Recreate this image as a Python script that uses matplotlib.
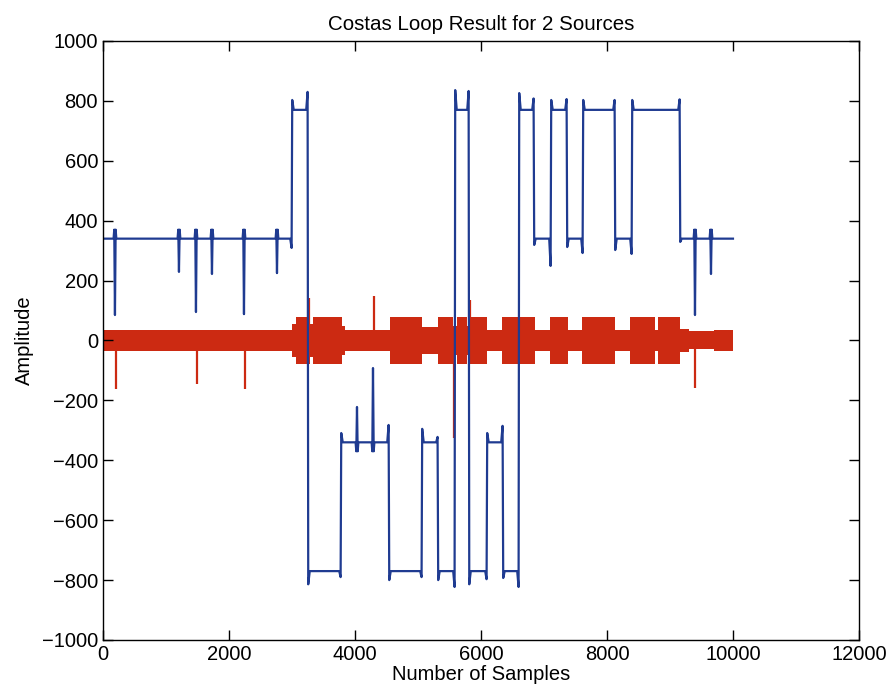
import numpy as np
import matplotlib
matplotlib.use('Agg')
import matplotlib.pyplot as plt

plt.rcParams['font.family'] = ['Liberation Sans', 'DejaVu Sans']

  # Fuente azul: niveles entre transiciones (indice de muestra)
blue_steps = [0, 3000, 3254, 3778, 4540, 5063, 5317, 5587, 5810, 6095, 6349,
              6603, 6841, 7111, 7365, 7619, 8127, 8397, 9159, 10000]
blue_levels = [340, 770, -770, -340, -770, -340, -770, 770, -770, -340, -770,
               770, 340, 770, 340, 770, 340, 770, 340]
  # valor justo antes / justo despues de cada transicion (oscilacion)
blue_pre = [309, 830, -790, -282, -790, -322, -823, 833, -797, -285, -823,
            808, 249, 806, 292, 803, 289, 805]
blue_post = [803, -814, -309, -800, -295, -800, 836, -814, -309, -793, 826,
             319, 803, 312, 803, 302, 803, 329]
  # picos cortos dentro de un nivel
blue_spike_x = [190, 1206, 1476, 1730, 2238, 2762, 4032, 4286, 9397, 9651]
blue_spike_y = [85, 229, 95, 222, 88, 225, -222, -92, 85, 222]

  # Fuente roja: envolvente por tramos y picos
red_edges = [0, 3000, 3060, 3290, 3330, 3794, 3840, 4556, 5063, 5317, 5556,
             5620, 5780, 5830, 6095, 6333, 6857, 7095, 7381, 7603, 8127, 8365,
             8762, 8810, 9159, 9300, 9700, 10000]
red_amp = [35, 55, 80, 55, 80, 50, 35, 80, 45, 80, 50, 80, 50, 80, 35, 80,
           35, 80, 35, 80, 35, 80, 35, 80, 40, 30, 35]
red_spike_x = [206, 1492, 2254, 3270, 4302, 5571, 5825, 9400]
red_spike_y = [-163, -146, -161, 142, 148, -325, 135, -160]

blue_c = '#1f3b91'
red_c = '#cc2a12'

  # Construccion de la linea azul
bx = []
by = []
for i in range(len(blue_levels)):
	a = blue_steps[i]
	b = blue_steps[i+1]
	L = blue_levels[i]
	if i > 0:
		bx += [a+4, a+28]
		by += [blue_post[i-1], L]
	else:
		bx.append(a)
		by.append(L)
	for s, d in zip(blue_spike_x, blue_spike_y):
		if a < s < b:
			ear = L - np.sign(d-L)*30
			bx += [s-22, s-11, s, s+11, s+22]
			by += [L, ear, d, ear, L]
	if i < len(blue_levels)-1:
		bx += [b-28, b-6]
		by += [L, blue_pre[i]]
	else:
		bx.append(b)
		by.append(L)

fig = plt.figure(figsize=(8.87, 6.98), dpi=100)
ax = fig.add_axes([0.1161, 0.0831, 0.8523, 0.8582])

amp = np.array(red_amp + [red_amp[-1]])
ax.fill_between(red_edges, -amp, amp, step='post', color=red_c, linewidth=0)
ax.vlines(red_spike_x, 0, red_spike_y, color=red_c, linewidth=1.6)
ax.plot(bx, by, color=blue_c, linewidth=1.6)

ax.set_xlim(0, 12000)
ax.set_ylim(-1000, 1000)
ax.set_xticks(np.arange(0, 12001, 2000))
ax.set_yticks(np.arange(-1000, 1001, 200))
ax.tick_params(direction='in', top=True, right=True, length=7, labelsize=14.5, width=1)
for sp in ax.spines.values():
	sp.set_linewidth(1)
ax.set_title('Costas Loop Result for 2 Sources', fontsize=14.8, pad=8)
ax.set_xlabel('Number of Samples', fontsize=14.5, labelpad=1)
ax.set_ylabel('Amplitude', fontsize=14.5, labelpad=6)

fig.savefig('out.png', dpi=100)
